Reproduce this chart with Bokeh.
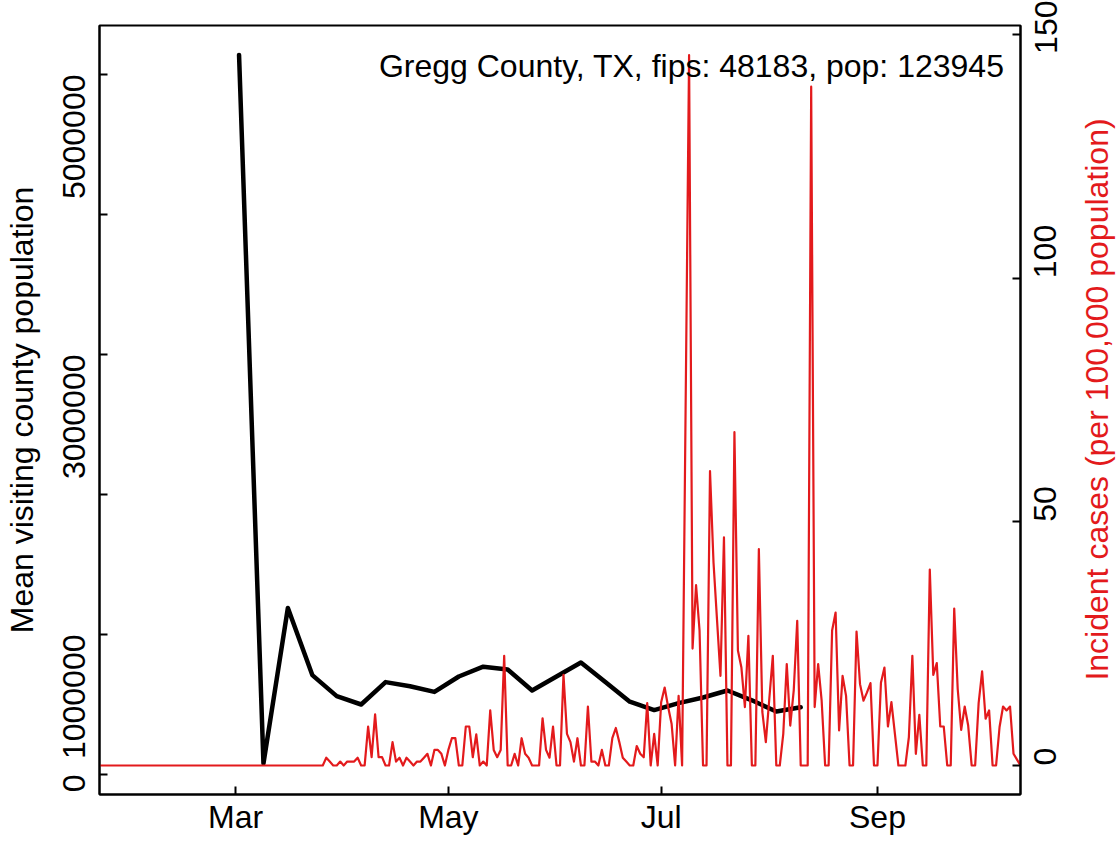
import math
import pandas as pd
from bokeh.plotting import figure
from bokeh.layouts import row
from bokeh.models import Range1d, LinearAxis, FixedTicker, DatetimeTickFormatter, Label
from bokeh.embed import file_html
from bokeh.resources import INLINE

# ---------------- data ----------------
visit_dates = ["2020-03-02", "2020-03-09", "2020-03-16", "2020-03-23", "2020-03-30",
               "2020-04-06", "2020-04-13", "2020-04-20", "2020-04-27", "2020-05-04",
               "2020-05-11", "2020-05-18", "2020-05-25", "2020-06-01", "2020-06-08",
               "2020-06-15", "2020-06-22", "2020-06-29", "2020-07-06", "2020-07-13",
               "2020-07-20", "2020-07-27", "2020-08-03", "2020-08-10"]
visit_mean = [5140000, 80000, 1190000, 710000, 560000,
              500000, 660000, 630000, 590000, 700000,
              770000, 750000, 600000, 700000, 800000,
              660000, 520000, 460000, 510000, 550000,
              600000, 530000, 450000, 480000]

case_start = "2020-01-22"
cases_per_100k = [
    0, 0, 0, 0, 0, 0, 0, 0, 0, 0, 0, 0, 0, 0, 0, 0, 0, 0, 0, 0,
    0, 0, 0, 0, 0, 0, 0, 0, 0, 0, 0, 0, 0, 0, 0, 0, 0, 0, 0, 0,
    0, 0, 0, 0, 0, 0, 0, 0, 0, 0, 0, 0, 0, 0, 0, 0, 0, 0, 0, 0,
    0, 0, 0, 0, 0,
    1.6, 0.8, 0, 0, 0.8, 0, 0.8, 0.8, 0.8, 1.6,
    0, 0, 8, 1.7, 10.5, 1.7, 1.7, 0, 0, 4.8,
    0.8, 1.6, 0, 1.6, 0.8, 0, 0.8, 0.8, 1.6, 2.4,
    0, 3.2, 3.2, 2.4, 0, 3.2, 5.6, 5.6, 0, 0,
    8, 8, 1.7, 6.4, 0, 0.8, 0, 11.3, 3.2, 1.7,
    3.2, 22.5, 0, 0, 2.4, 0, 5.6, 2.4, 1.6, 0,
    0, 0, 9.7, 3.2, 1.6, 8, 0, 0, 18.6, 6.5,
    4.8, 0.8, 5.6, 0, 0, 12.1, 0.8, 0.8, 0, 3.2,
    0, 0, 5.6, 7.7, 4.8, 1.6, 0.8, 0, 0, 4,
    2.4,
    1.7, 12.8, 0, 6.5, 0, 13, 16, 12, 8.5, 0,
    14.3, 0, 73, 145.8, 24, 37, 27.7, 0, 0, 60.4,
    41.7, 30, 18.4, 46.8, 0, 0, 68.4, 23.6, 20.1, 12,
    26.6, 0, 0, 44.4, 11, 4.8, 13.7, 22.5, 0, 0,
    6.5, 20.8, 8.2, 15.4, 29.7, 0, 0, 0, 139.3, 12,
    20.8, 13.3, 0, 0, 27.7, 31.4, 7.2, 18.4, 14.3, 0,
    0, 27.5, 16.7, 13.3, 15, 16.9, 0, 0, 17, 20.1,
    8, 13, 6.5, 0, 0, 0, 5.8, 22.5, 2.4, 10.4,
    0, 0, 40.2, 18.6, 21, 8, 8, 0, 0, 32.2,
    15.7, 7.3, 12.1, 8.2, 0, 0, 12.8, 19.3, 9.6, 11.3,
    0, 0, 7.9, 12.1, 11.3, 12.1, 2.4, 1.2, 0,
]

x_tick_dates = ["2020-03-01", "2020-05-01", "2020-07-01", "2020-09-01"]
left_ticks = [0, 1000000, 2000000, 3000000, 4000000, 5000000]
left_tick_labels = ["0", "1000000", "", "3000000", "", "5000000"]
right_ticks = [0, 50, 100, 150]

title_text = "Gregg County, TX, fips: 48183, pop: 123945"
left_label = "Mean visiting county population"
right_label = "Incident cases (per 100,000 population)"

# ---------------- figure ----------------
RED = "#E31A1C"
FONT = "Liberation Sans"
FS = "32px"

visit_x = pd.to_datetime(visit_dates)
case_x = pd.date_range(case_start, periods=len(cases_per_100k), freq="D")

W_TOTAL, H = 1119, 842
W_SIDE = 49                      # strip on the right that holds the red axis title
W = W_TOTAL - W_SIDE
BL, BT, BB = 99, 25, 48
BR = W - 1020
frame_w = W - BL - BR
frame_h = H - BT - BB

y_left = Range1d(-142857, 5350000)
p = figure(width=W, height=H, x_axis_type="datetime",
           output_backend="svg", toolbar_location=None,
           x_range=Range1d(case_x[0], case_x[-1]),
           y_range=y_left,
           min_border_left=BL, min_border_right=BR,
           min_border_top=BT, min_border_bottom=BB)
p.extra_y_ranges = {"cases": Range1d(-5.95, 151.86)}

p.xgrid.visible = False
p.ygrid.visible = False
p.outline_line_color = "black"
p.outline_line_width = 2
p.background_fill_color = "white"
p.border_fill_color = "white"

p.line(visit_x, visit_mean, line_color="black", line_width=4.5,
       line_join="round", line_cap="round")
p.line(case_x, cases_per_100k, line_color=RED, line_width=2.2,
       line_join="round", y_range_name="cases")

right_axis = LinearAxis(y_range_name="cases")
p.add_layout(right_axis, "right")

xa = p.xaxis[0]
ya = p.yaxis[0]

for ax in (xa, ya, right_axis):
    ax.axis_line_color = "black"
    ax.axis_line_width = 2
    ax.major_tick_line_color = "black"
    ax.major_tick_line_width = 2
    ax.major_tick_in = 8
    ax.major_tick_out = 0
    ax.minor_tick_line_color = None
    ax.major_label_text_font = FONT
    ax.major_label_text_font_size = FS
    ax.major_label_text_color = "black"
    ax.axis_label_text_font = FONT
    ax.axis_label_text_font_size = FS
    ax.axis_label_text_font_style = "normal"

xa.ticker = FixedTicker(ticks=[pd.Timestamp(d).value / 1e6 for d in x_tick_dates])
xa.formatter = DatetimeTickFormatter(days="%b", months="%b", years="%b",
                                     hours="%b", hourmin="%b", minutes="%b",
                                     minsec="%b", seconds="%b")
xa.major_label_standoff = 4

ya.ticker = FixedTicker(ticks=left_ticks)
ya.major_label_overrides = {t: s for t, s in zip(left_ticks, left_tick_labels)}
ya.major_label_orientation = math.pi / 2
ya.major_label_standoff = 26
ya.axis_label = left_label
ya.axis_label_text_color = "black"
ya.axis_label_standoff = 9

right_axis.ticker = FixedTicker(ticks=right_ticks)
right_axis.major_label_orientation = math.pi / 2
right_axis.major_label_standoff = 25

# ---- title text placed in data space of the frame ----
px_per_day = frame_w / (len(case_x) - 1)
px_per_unit = frame_h / (y_left.end - y_left.start)


def xpix_to_date(px):
    return case_x[0] + pd.Timedelta(days=(px - BL) / px_per_day)


def ypix_to_val(py):
    return y_left.end - (py - BT) / px_per_unit


p.add_layout(Label(x=xpix_to_date(1004), y=ypix_to_val(65),
                   text=title_text, text_align="right",
                   text_baseline="middle", text_font=FONT,
                   text_font_size=FS, text_color="black"))

# ---- narrow strip holding the right-hand (red) axis title ----
side = figure(width=W_SIDE, height=H, output_backend="svg", toolbar_location=None,
              x_range=Range1d(0, W_SIDE), y_range=Range1d(0, H),
              x_axis_type=None, y_axis_type=None, min_border=0)
side.outline_line_color = None
side.xgrid.visible = False
side.ygrid.visible = False
side.background_fill_color = "white"
side.border_fill_color = "white"
side.add_layout(Label(x=1096.5 - W, y=H - (BT + frame_h / 2), text=right_label,
                      angle=math.pi / 2, text_align="center", text_baseline="middle",
                      text_font=FONT, text_font_size=FS, text_color=RED))

layout = row(p, side, spacing=0)
open("out.html", "w").write(file_html(layout, INLINE, title="Gregg County"))
